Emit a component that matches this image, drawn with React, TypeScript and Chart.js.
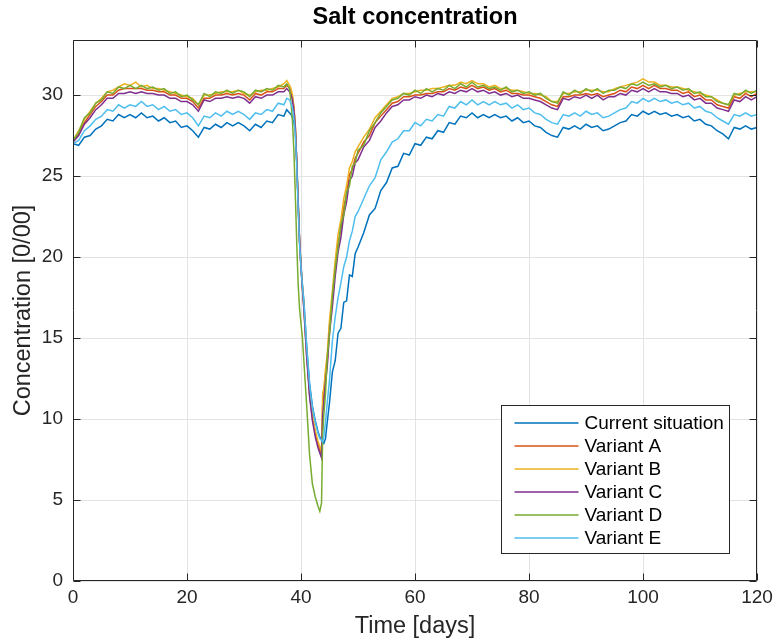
import React, { useEffect, useRef } from 'react';
import { Chart, registerables } from 'chart.js';

Chart.register(...registerables);

const timeDays: number[] = [
  0, 1, 2, 3, 4, 5, 6, 7, 8, 9,
  10, 11, 12, 13, 14, 15, 16, 17, 18, 19,
  20, 21, 22, 23, 24, 25, 26, 27, 28, 29,
  30, 31, 32, 33, 34, 35, 36, 37,
  37.5, 38, 38.25, 38.5, 38.75, 39, 39.25, 39.5, 39.75, 40,
  40.25, 40.5, 41, 41.5, 42, 42.5, 43, 43.3, 43.6, 43.8,
  44, 44.3, 44.6, 45, 45.5, 46, 46.5, 47, 47.5, 48,
  48.5, 49, 49.5,
  50, 51, 52, 53, 54, 55, 56, 57, 58, 59,
  60, 61, 62, 63, 64, 65, 66, 67, 68, 69,
  70, 71, 72, 73, 74, 75, 76, 77, 78, 79,
  80, 81, 82, 83, 84, 85, 86, 87, 88, 89,
  90, 91, 92, 93, 94, 95, 96, 97, 98, 99,
  100, 101, 102, 103, 104, 105, 106, 107, 108, 109,
  110, 111, 112, 113, 114, 115, 116, 117, 118, 119,
  120,
];

const currentSituation: number[] = [
  27.0, 26.9, 27.4, 27.5, 27.9, 28.1, 28.5, 28.4, 28.8, 28.6,
  28.8, 28.6, 28.9, 28.6, 28.7, 28.4, 28.6, 28.3, 28.4, 28.0,
  28.1, 27.8, 27.4, 28.0, 27.9, 28.2, 28.0, 28.3, 28.1, 28.3,
  28.1, 27.8, 28.2, 28.0, 28.4, 28.3, 28.8, 28.7,
  29.1, 28.9, 28.8, 28.6, 28.3, 27.8, 26.0, 23.5, 21.0, 19.5,
  18.3, 17.3, 14.5, 12.2, 10.8, 9.9, 9.2, 8.9, 8.7, 8.6,
  8.5, 8.8, 9.8, 11.0, 12.9, 13.6, 15.3, 15.6, 17.2, 17.3,
  18.9, 18.8, 20.2,
  20.6, 21.5, 22.6, 23.0, 24.1, 24.6, 25.5, 25.6, 26.4, 26.3,
  27.0, 26.9, 27.4, 27.3, 27.8, 27.7, 28.3, 28.2, 28.7, 28.6,
  28.9, 28.6, 28.8, 28.6, 28.8, 28.6, 28.7, 28.4, 28.6, 28.3,
  28.4, 28.1, 28.0, 27.7, 27.5, 27.4, 28.0, 27.9, 28.1, 27.9,
  28.2, 28.0, 28.1, 27.8, 27.9, 28.1, 28.3, 28.4, 28.8, 28.7,
  29.0, 28.8, 29.0, 28.8, 28.9, 28.7, 28.8, 28.6, 28.7, 28.4,
  28.5, 28.2, 28.1, 27.8, 27.6, 27.3, 28.0, 27.9, 28.1, 27.9,
  28.0,
];

const variantA: number[] = [
  27.1, 27.6, 28.3, 28.8, 29.3, 29.6, 30.0, 30.0, 30.3, 30.4,
  30.4, 30.4, 30.4, 30.3, 30.3, 30.2, 30.2, 30.0, 30.0, 29.8,
  29.8, 29.6, 29.2, 29.8, 29.8, 30.0, 30.0, 30.1, 30.0, 30.1,
  30.0, 29.7, 30.1, 30.0, 30.2, 30.2, 30.4, 30.4,
  30.6, 30.4, 30.2, 29.9, 29.2, 28.1, 25.9, 23.3, 21.0, 19.4,
  18.1, 16.9, 13.9, 11.6, 10.1, 9.1, 8.4, 8.1, 7.8, 10.9,
  11.4, 12.7, 13.6, 15.7, 17.4, 19.3, 20.8, 21.7, 23.1, 23.9,
  25.1, 25.4, 26.1,
  26.4, 27.1, 27.5, 28.3, 28.7, 29.1, 29.5, 29.6, 29.9, 29.9,
  30.0, 30.0, 30.1, 30.1, 30.2, 30.2, 30.4, 30.3, 30.5, 30.4,
  30.6, 30.4, 30.5, 30.3, 30.4, 30.2, 30.3, 30.1, 30.1, 30.0,
  30.0, 29.9, 29.8, 29.6, 29.4, 29.3, 29.9, 29.9, 30.0, 30.0,
  30.1, 30.0, 30.1, 29.9, 30.0, 30.1, 30.3, 30.2, 30.5, 30.4,
  30.6, 30.4, 30.6, 30.4, 30.4, 30.3, 30.3, 30.1, 30.2, 29.9,
  30.0, 29.7, 29.7, 29.4, 29.3, 29.2, 29.9, 29.8, 30.1, 29.9,
  30.1,
];

const variantB: number[] = [
  27.2, 27.8, 28.5, 29.0, 29.5, 29.8, 30.2, 30.3, 30.5, 30.7,
  30.6, 30.8, 30.5, 30.6, 30.4, 30.4, 30.3, 30.2, 30.1, 30.0,
  29.9, 29.8, 29.4, 30.0, 30.0, 30.1, 30.2, 30.2, 30.2, 30.3,
  30.1, 30.0, 30.2, 30.3, 30.3, 30.4, 30.5, 30.7,
  30.9, 30.6, 30.4, 30.0, 29.3, 28.1, 25.9, 23.3, 21.0, 19.4,
  18.2, 17.0, 14.1, 11.8, 10.3, 9.3, 8.6, 8.3, 8.0, 11.6,
  11.9, 13.1, 14.0, 16.1, 17.9, 19.8, 21.4, 22.3, 23.6, 24.4,
  25.5, 25.9, 26.5,
  26.8, 27.4, 27.9, 28.6, 29.0, 29.4, 29.8, 29.9, 30.1, 30.1,
  30.2, 30.3, 30.3, 30.4, 30.4, 30.5, 30.6, 30.6, 30.8, 30.7,
  30.9, 30.7, 30.7, 30.5, 30.6, 30.4, 30.4, 30.3, 30.3, 30.2,
  30.1, 30.1, 30.0, 29.9, 29.6, 29.6, 30.1, 30.1, 30.2, 30.2,
  30.3, 30.3, 30.3, 30.2, 30.2, 30.4, 30.5, 30.6, 30.7, 30.8,
  31.0, 30.8, 30.8, 30.6, 30.6, 30.5, 30.5, 30.4, 30.3, 30.2,
  30.1, 30.0, 29.9, 29.7, 29.5, 29.4, 30.0, 30.1, 30.2, 30.2,
  30.2,
];

const variantC: number[] = [
  27.1, 27.5, 28.2, 28.6, 29.1, 29.4, 29.8, 29.8, 30.1, 30.1,
  30.2, 30.1, 30.2, 30.1, 30.1, 30.0, 30.0, 29.8, 29.8, 29.6,
  29.6, 29.4, 29.0, 29.7, 29.6, 29.8, 29.8, 29.9, 29.8, 29.9,
  29.8, 29.5, 29.9, 29.8, 30.0, 30.0, 30.2, 30.2,
  30.4, 30.2, 30.0, 29.7, 29.1, 28.0, 25.9, 23.3, 21.0, 19.3,
  18.0, 16.8, 13.8, 11.4, 9.9, 8.9, 8.2, 7.9, 7.6, 10.2,
  11.0, 12.3, 13.2, 15.3, 16.9, 18.8, 20.3, 21.2, 22.6, 23.4,
  24.7, 25.0, 25.8,
  26.0, 26.8, 27.2, 28.0, 28.4, 28.9, 29.3, 29.4, 29.7, 29.7,
  29.9, 29.8, 30.0, 29.9, 30.1, 30.0, 30.2, 30.1, 30.3, 30.2,
  30.4, 30.2, 30.3, 30.1, 30.2, 30.0, 30.1, 29.9, 30.0, 29.8,
  29.8, 29.7, 29.6, 29.4, 29.2, 29.1, 29.8, 29.7, 29.9, 29.8,
  30.0, 29.8, 30.0, 29.7, 29.9, 29.9, 30.1, 30.0, 30.3, 30.2,
  30.4, 30.2, 30.4, 30.2, 30.2, 30.1, 30.1, 29.9, 30.0, 29.7,
  29.8, 29.5, 29.5, 29.2, 29.1, 29.0, 29.7, 29.6, 29.9, 29.7,
  29.9,
];

const variantD: number[] = [
  27.2, 27.7, 28.6, 28.9, 29.5, 29.7, 30.2, 30.1, 30.5, 30.4,
  30.6, 30.4, 30.6, 30.4, 30.5, 30.3, 30.4, 30.1, 30.2, 29.9,
  30.0, 29.7, 29.4, 30.1, 29.9, 30.2, 30.1, 30.3, 30.1, 30.3,
  30.2, 29.9, 30.3, 30.2, 30.4, 30.3, 30.6, 30.5,
  30.7, 30.4, 29.5, 28.4, 26.6, 23.9, 20.9, 18.3, 16.8, 15.9,
  15.0, 13.6, 10.8, 7.8, 6.0, 5.2, 4.6, 4.3, 4.8, 9.0,
  10.2, 11.6, 13.8, 15.2, 17.6, 19.3, 20.6, 22.0, 22.6, 24.0,
  24.4, 25.6, 25.8,
  26.6, 26.9, 27.8, 28.3, 28.9, 29.3, 29.7, 29.8, 30.1, 30.0,
  30.3, 30.1, 30.4, 30.2, 30.4, 30.3, 30.6, 30.4, 30.7, 30.5,
  30.8, 30.5, 30.6, 30.4, 30.5, 30.3, 30.5, 30.2, 30.3, 30.1,
  30.2, 30.0, 30.1, 29.8, 29.6, 29.5, 30.2, 30.0, 30.3, 30.1,
  30.4, 30.2, 30.4, 30.1, 30.3, 30.3, 30.5, 30.4, 30.7, 30.6,
  30.8, 30.6, 30.7, 30.5, 30.6, 30.4, 30.5, 30.3, 30.4, 30.1,
  30.2, 29.9, 29.9, 29.6, 29.5, 29.4, 30.1, 30.0, 30.3, 30.1,
  30.3,
];

const variantE: number[] = [
  27.0, 27.2, 27.8, 28.1, 28.5, 28.7, 29.1, 29.0, 29.4, 29.2,
  29.4, 29.3, 29.6, 29.3, 29.4, 29.1, 29.3, 29.0, 29.1, 28.8,
  28.9, 28.6, 28.1, 28.7, 28.6, 28.9, 28.7, 29.0, 28.8, 29.0,
  28.8, 28.5, 28.9, 28.8, 29.1, 29.0, 29.5, 29.4,
  29.8, 29.7, 29.5, 29.2, 28.6, 27.6, 25.6, 23.0, 20.8, 19.3,
  18.2, 17.2, 14.4, 12.1, 10.7, 9.8, 9.1, 8.8, 8.7, 8.6,
  8.9, 9.8, 11.0, 12.4, 14.8, 16.3, 17.5, 18.4, 19.4, 20.0,
  21.0, 21.6, 22.5,
  22.8, 23.6, 24.4, 24.9, 26.0, 26.5, 27.1, 27.3, 27.8, 27.8,
  28.3, 28.1, 28.5, 28.4, 28.8, 28.7, 29.3, 29.2, 29.6, 29.4,
  29.7, 29.4, 29.6, 29.4, 29.6, 29.4, 29.5, 29.2, 29.4, 29.1,
  29.2, 28.9, 28.8, 28.5, 28.3, 28.2, 28.8, 28.7, 28.9, 28.7,
  29.0, 28.8, 28.9, 28.6, 28.7, 28.9, 29.1, 29.2, 29.6, 29.5,
  29.8, 29.6, 29.8, 29.6, 29.7, 29.5, 29.6, 29.4, 29.5, 29.2,
  29.3, 29.0, 28.9, 28.6, 28.4, 28.2, 28.8, 28.7, 28.9, 28.7,
  28.8,
];

const seriesNames: string[] = [
  'Current situation',
  'Variant A',
  'Variant B',
  'Variant C',
  'Variant D',
  'Variant E',
];
const seriesColors: string[] = ['#0072BD', '#D95319', '#EDB120', '#7E2F8E', '#77AC30', '#4DBEEE'];
const seriesValues: number[][] = [currentSituation, variantA, variantB, variantC, variantD, variantE];

const xTicks: number[] = [0, 20, 40, 60, 80, 100, 120];
const yTicks: number[] = [0, 5, 10, 15, 20, 25, 30];

const FONT = '"Liberation Sans", Arial, Helvetica, sans-serif';
const AXIS_COLOR = '#262626';

const boxPlugin = {
  id: 'matlabBox',
  afterDatasetsDraw(chart: any) {
    const { ctx, chartArea, scales } = chart;
    const { left, right, top, bottom } = chartArea;
    ctx.save();
    ctx.strokeStyle = AXIS_COLOR;
    ctx.lineWidth = 1;
    const L = Math.round(left) + 0.5;
    const R = Math.round(right) - 0.5;
    const T = Math.round(top) + 0.5;
    const B = Math.round(bottom) - 0.5;
    ctx.beginPath();
    ctx.rect(L, T, R - L, B - T);
    ctx.stroke();
    const tl = 7;
    ctx.beginPath();
    xTicks.forEach((v) => {
      const x = Math.round(scales.x.getPixelForValue(v)) + 0.5;
      ctx.moveTo(x, B);
      ctx.lineTo(x, B - tl);
      ctx.moveTo(x, T);
      ctx.lineTo(x, T + tl);
    });
    yTicks.forEach((v) => {
      const y = Math.round(scales.y.getPixelForValue(v)) + 0.5;
      ctx.moveTo(L, y);
      ctx.lineTo(L + tl, y);
      ctx.moveTo(R, y);
      ctx.lineTo(R - tl, y);
    });
    ctx.stroke();

    // legend box (bottom-right inside the axes)
    const bw = 228;
    const bh = 148;
    const bx = Math.round(right - 28 - bw) + 0.5;
    const by = Math.round(bottom - 28 - bh) + 0.5;
    ctx.fillStyle = '#ffffff';
    ctx.fillRect(bx, by, bw, bh);
    ctx.strokeStyle = AXIS_COLOR;
    ctx.lineWidth = 1;
    ctx.strokeRect(bx, by, bw, bh);
    ctx.font = `19px ${FONT}`;
    ctx.textBaseline = 'middle';
    ctx.textAlign = 'left';
    seriesNames.forEach((name, i) => {
      const cy = by + 17.5 + i * 23;
      ctx.strokeStyle = seriesColors[i];
      ctx.lineWidth = 1.5;
      ctx.beginPath();
      ctx.moveTo(bx + 13, cy);
      ctx.lineTo(bx + 77, cy);
      ctx.stroke();
      ctx.fillStyle = '#000000';
      ctx.fillText(name, bx + 83, cy + 1);
    });
    ctx.restore();
  },
};

export default function App() {
  const canvasRef = useRef<HTMLCanvasElement | null>(null);

  useEffect(() => {
    document.body.style.margin = '0';
    const canvas = canvasRef.current;
    if (!canvas) return;

    const datasets = seriesNames.map((name, i) => ({
      label: name,
      data: timeDays.map((t, k) => ({ x: t, y: seriesValues[i][k] })),
      borderColor: seriesColors[i],
      backgroundColor: seriesColors[i],
      borderWidth: 1.5,
      pointRadius: 0,
      tension: 0,
      fill: false,
      order: seriesNames.length - i,
    }));

    const chart = new Chart(canvas, {
      type: 'line',
      data: { datasets },
      plugins: [boxPlugin],
      options: {
        responsive: false,
        animation: false,
        devicePixelRatio: 1,
        layout: { padding: { left: 0, right: 17, top: 0, bottom: 0 } },
        font: { family: FONT },
        plugins: {
          legend: { display: false },
          tooltip: { enabled: false },
          title: {
            display: true,
            text: 'Salt concentration',
            fullSize: false,
            color: '#000000',
            font: { family: FONT, size: 23.5, weight: 'bold' },
            padding: { top: 3, bottom: 8.8 },
          },
        },
        scales: {
          x: {
            type: 'linear',
            min: 0,
            max: 120,
            afterBuildTicks: (scale: any) => {
              scale.ticks = xTicks.map((v) => ({ value: v }));
            },
            afterFit: (scale: any) => {
              scale.height = 63;
              scale.paddingLeft = 0;
              scale.paddingRight = 0;
            },
            ticks: {
              stepSize: 20,
              padding: 5,
              maxRotation: 0,
              autoSkip: false,
              color: AXIS_COLOR,
              font: { family: FONT, size: 19 },
            },
            grid: { color: '#e3e3e3', lineWidth: 1, drawTicks: false },
            border: { display: false },
            title: {
              display: true,
              text: 'Time [days]',
              color: AXIS_COLOR,
              font: { family: FONT, size: 23.5 },
              padding: { top: 4, bottom: 3 },
            },
          },
          y: {
            type: 'linear',
            min: 0,
            max: 33.4,
            afterBuildTicks: (scale: any) => {
              scale.ticks = yTicks.map((v) => ({ value: v }));
            },
            afterFit: (scale: any) => {
              scale.width = 73;
              scale.paddingTop = 0;
              scale.paddingBottom = 0;
            },
            ticks: {
              stepSize: 5,
              padding: 10,
              autoSkip: false,
              color: AXIS_COLOR,
              font: { family: FONT, size: 19 },
            },
            grid: { color: '#e3e3e3', lineWidth: 1, drawTicks: false },
            border: { display: false },
            title: {
              display: true,
              text: 'Concentration [0/00]',
              color: AXIS_COLOR,
              font: { family: FONT, size: 23.5 },
              padding: { top: 9, bottom: 4 },
            },
          },
        },
      } as any,
    });

    return () => {
      chart.destroy();
    };
  }, []);

  return (
    <div style={{ width: 774, height: 644, position: 'relative' }}>
      <canvas ref={canvasRef} width={774} height={644} style={{ display: 'block' }} />
    </div>
  );
}
